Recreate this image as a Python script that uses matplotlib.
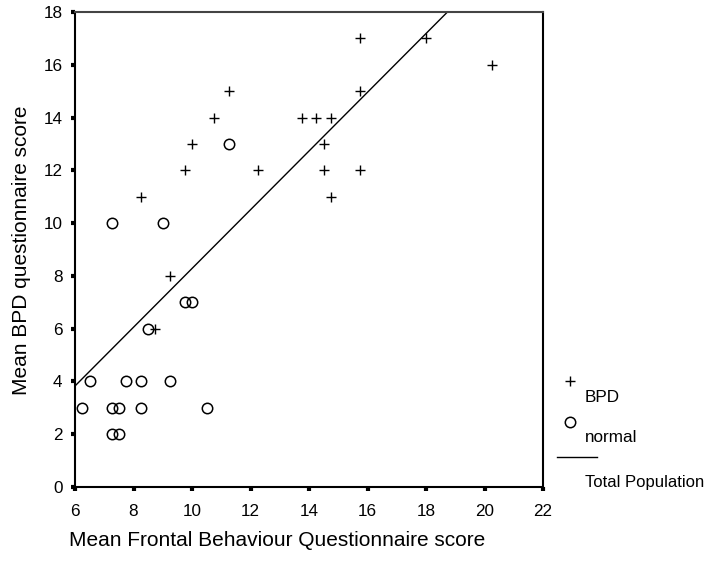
import matplotlib
matplotlib.use("Agg")
import matplotlib.pyplot as plt
from matplotlib.lines import Line2D
import numpy as np

plt.rcParams['font.family'] = ['Liberation Sans', 'DejaVu Sans']

# BPD group (+)
bpd_fbq = [15.75, 18.0, 20.25, 11.25, 15.75, 10.75, 13.75, 14.25, 14.75,
           10.0, 14.5, 9.75, 12.25, 14.5, 15.75, 14.75, 8.25, 9.25, 8.75]
bpd_bpq = [17, 17, 16, 15, 15, 14, 14, 14, 14,
           13, 13, 12, 12, 12, 12, 11, 11, 8, 6]

# normal group (o)
normal_fbq = [11.25, 7.25, 9.0, 9.75, 10.0, 8.5, 6.5, 7.75, 8.25, 9.25,
              6.25, 7.25, 7.5, 8.25, 10.5, 7.25, 7.5]
normal_bpq = [13, 10, 10, 7, 7, 6, 4, 4, 4, 4,
              3, 3, 3, 3, 3, 2, 2]

# total population fit line
fit_intercept = -2.85
fit_slope = 1.113

x_ticks = [6, 8, 10, 12, 14, 16, 18, 20, 22]
y_ticks = [0, 2, 4, 6, 8, 10, 12, 14, 16, 18]

W, H = 706, 574
fig = plt.figure(figsize=(W / 100, H / 100), dpi=100)
ax = fig.add_axes([75 / W, 1 - 487 / H, (543 - 75) / W, (487 - 12) / H])

ax.plot(bpd_fbq, bpd_bpq, ls='none', marker='+', ms=6.5, mew=1.0, color='black')
ax.plot(normal_fbq, normal_bpq, ls='none', marker='o', ms=7.5, mew=1.1,
        mfc='none', mec='black')

xs = np.array([6, 22])
ax.plot(xs, fit_intercept + fit_slope * xs, color='black', lw=1.0)

ax.set_xlim(6, 22)
ax.set_ylim(0, 18)
ax.set_xticks(x_ticks)
ax.set_yticks(y_ticks)
ax.tick_params(direction='out', length=3, width=3, labelsize=12.3)
ax.tick_params(axis='x', pad=9)
ax.tick_params(axis='y', pad=6)

for side in ['left', 'bottom', 'right']:
    ax.spines[side].set_linewidth(1.5)
    ax.spines[side].set_color('black')
ax.spines['top'].set_linewidth(1.5)
ax.spines['top'].set_color('#444444')

fig.text(277 / W, 1 - 540 / H, "Mean Frontal Behaviour Questionnaire score",
         ha='center', va='center', fontsize=15)
fig.text(22 / W, 1 - 250 / H, "Mean BPD questionnaire score",
         ha='center', va='center', rotation=90, fontsize=15)

# legend, outside the plot on the right
fig.add_artist(Line2D([570 / W], [1 - 381 / H], marker='+', ms=6.5, mew=1.0,
                      color='black', ls='none'))
fig.text(585 / W, 1 - 398 / H, "BPD", ha='left', va='center', fontsize=12.3)
fig.add_artist(Line2D([570 / W], [1 - 422 / H], marker='o', ms=7.5, mew=1.1,
                      mfc='none', mec='black', ls='none'))
fig.text(585 / W, 1 - 437 / H, "normal", ha='left', va='center', fontsize=12.3)
fig.add_artist(Line2D([557 / W, 597 / W], [1 - 457 / H, 1 - 457 / H],
                      color='black', lw=1.0))
fig.text(585 / W, 1 - 482 / H, "Total Population", ha='left', va='center',
         fontsize=12)

plt.savefig("out.png", dpi=100)
plt.close()
